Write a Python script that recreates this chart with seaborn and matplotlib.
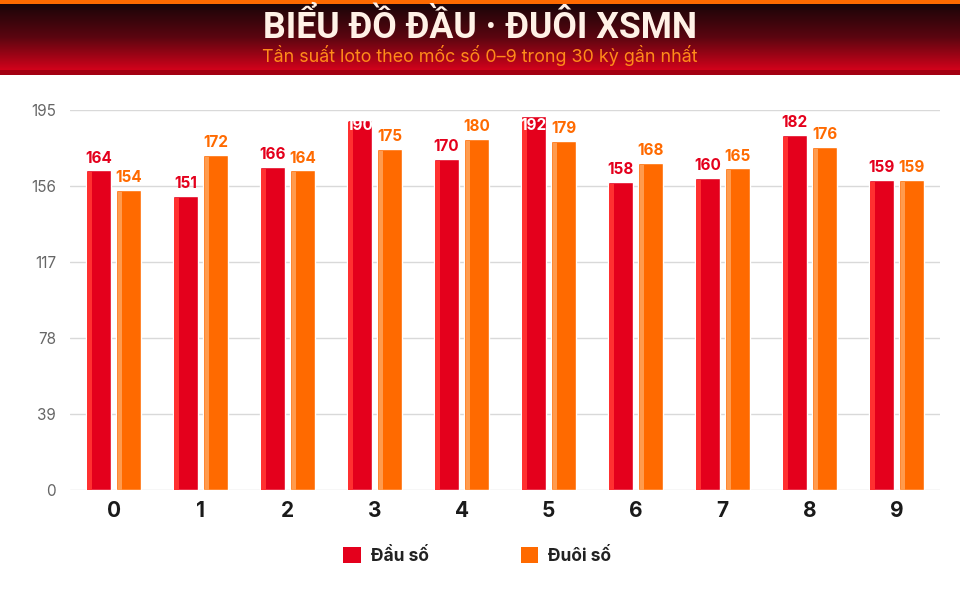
import numpy as np
import pandas as pd
import matplotlib
matplotlib.use("Agg")
import matplotlib.pyplot as plt
from matplotlib.patches import Rectangle, Patch
from matplotlib.colors import LinearSegmentedColormap
import seaborn as sns

# ---- data ----
digits = ["0", "1", "2", "3", "4", "5", "6", "7", "8", "9"]
dau_so = [164, 151, 166, 190, 170, 192, 158, 160, 182, 159]
duoi_so = [154, 172, 164, 175, 180, 179, 168, 165, 176, 159]
series_names = ["Đầu số", "Đuôi số"]
y_ticks = [0, 39, 78, 117, 156, 195]
title = "BIỂU ĐỒ ĐẦU · ĐUÔI XSMN"
subtitle = "Tần suất loto theo mốc số 0–9 trong 30 kỳ gần nhất"

RED = "#E4001C"
ORANGE = "#FF6A00"
RED_HI = "#FF3030"
ORANGE_HI = "#FF9B4E"

df = pd.DataFrame({
    "digit": digits * 2,
    "value": dau_so + duoi_so,
    "series": [series_names[0]] * len(digits) + [series_names[1]] * len(digits),
})

sns.set_theme(style="white")
plt.rcParams["font.family"] = ["Inter", "DejaVu Sans"]

W, H = 960, 600
fig = plt.figure(figsize=(W / 100, H / 100), dpi=100)
fig.patch.set_facecolor("white")

# ---- header band ----
hdr = fig.add_axes([0, 1 - 70 / H, 1, 66 / H])
grad = np.linspace(0, 1, 256).reshape(-1, 1)
cmap = LinearSegmentedColormap.from_list("hdr", ["#1A0508", "#5A0610", "#D2021B"])
hdr.imshow(grad, aspect="auto", cmap=cmap, extent=[0, 1, 0, 1], origin="upper")
hdr.set_axis_off()
fig.patches.append(Rectangle((0, 1 - 4 / H), 1, 4 / H, transform=fig.transFigure,
                             facecolor="#FF6A00", edgecolor="none", zorder=5))
fig.patches.append(Rectangle((0, 1 - 75 / H), 1, 5 / H, transform=fig.transFigure,
                             facecolor="#A30012", edgecolor="none", zorder=5))
fig.text(0.5, 1 - 38 / H, title, ha="center", va="baseline", color="#FFF1E6",
         fontsize=25.7, fontweight="bold", family=["Roboto", "DejaVu Sans"], zorder=6)
fig.text(0.5, 1 - 62 / H, subtitle, ha="center", va="baseline", color="#FF8C1A",
         fontsize=12.9, fontweight="normal", family=["Inter", "DejaVu Sans"], zorder=6)

# ---- main axes ----
ax = fig.add_axes([70 / W, 1 - 490 / H, 870 / W, 380 / H])
sns.barplot(data=df, x="digit", y="value", hue="series", hue_order=series_names,
            order=digits, palette=[RED, ORANGE], width=0.69, gap=0.167,
            saturation=1, errorbar=None, ax=ax, zorder=3)
if ax.get_legend() is not None:
    ax.get_legend().remove()

ax.set_xlim(-0.5, len(digits) - 0.5)
ax.set_ylim(0, 195)
ax.set_yticks(y_ticks)
ax.set_yticklabels([str(t) for t in y_ticks])
ax.set_xlabel("")
ax.set_ylabel("")
for s in ax.spines.values():
    s.set_visible(False)
ax.grid(axis="y", color="#D9D9D9", linewidth=1, zorder=0)
ax.grid(axis="x", visible=False)
ax.set_axisbelow(True)
ax.tick_params(axis="y", length=0, pad=10, labelsize=11, labelcolor="#666666")
ax.tick_params(axis="x", length=0, pad=8, labelsize=15, labelcolor="#1A1A1A")
for lab in ax.get_xticklabels():
    lab.set_fontweight("bold")

# highlights and value labels
px_x = (ax.get_xlim()[1] - ax.get_xlim()[0]) / 870.0
px_y = 195.0 / 380.0
for container, color, hi in zip(ax.containers, [RED, ORANGE], [RED_HI, ORANGE_HI]):
    for bar in container:
        x0 = bar.get_x()
        h = bar.get_height()
        ax.add_patch(Rectangle((x0 + 1.5 * px_x, 0), 4.3 * px_x, max(h - 2 * px_y, 0),
                               facecolor=hi, edgecolor="none", zorder=4))
        cx = x0 + bar.get_width() / 2
        if h > 186:
            ax.annotate(f"{int(h)}", xy=(cx, 1.0), xycoords=("data", "axes fraction"),
                        xytext=(0, -5.5), textcoords="offset points", ha="center", va="top",
                        color="white", fontsize=11, fontweight="bold", zorder=6)
        else:
            ax.annotate(f"{int(h)}", xy=(cx, h), xytext=(0, 3.5), textcoords="offset points",
                        ha="center", va="bottom", color=color, fontsize=11,
                        fontweight="bold", zorder=6)

# ---- legend ----
leg_handles = [Patch(facecolor=RED, edgecolor="none"), Patch(facecolor=ORANGE, edgecolor="none")]
leg = fig.legend(leg_handles, series_names, loc="center", bbox_to_anchor=(0.497, 1 - 556 / H),
                 ncol=2, frameon=False, handlelength=1.03, handleheight=1.0,
                 handletextpad=0.57, columnspacing=5.3,
                 prop={"family": ["Inter", "DejaVu Sans"], "weight": "bold", "size": 12.5})
for t in leg.get_texts():
    t.set_color("#222222")

fig.savefig("out.png", dpi=100, facecolor="white")
